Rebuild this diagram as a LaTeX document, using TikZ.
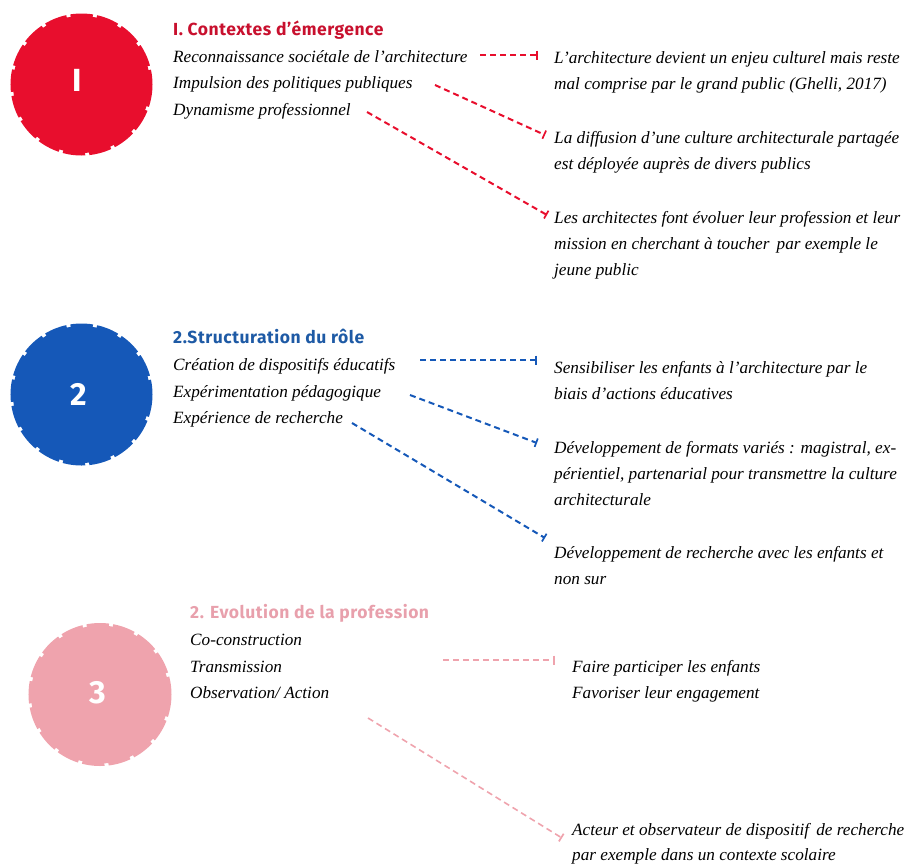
\documentclass[tikz,border=0pt]{standalone}
\usepackage{fontspec}
\setmainfont{Liberation Serif}
\newfontfamily\headfont[LetterSpace=3]{Fira Sans}
\newfontfamily\numfont{Fira Sans}
\usetikzlibrary{arrows.meta}
\definecolor{cred}{RGB}{232,14,45}
\definecolor{hred}{RGB}{200,16,46}
\definecolor{cblue}{RGB}{21,88,184}
\definecolor{hblue}{RGB}{30,90,165}
\definecolor{cpink}{RGB}{239,163,173}
\definecolor{hpink}{RGB}{232,160,172}
\tikzset{
  txt/.style={anchor=base west,inner sep=0pt,font=\fontsize{17.2}{26}\selectfont\itshape},
  head/.style={anchor=base west,inner sep=0pt,font=\fontsize{17.5}{20}\selectfont\headfont\bfseries},
  num/.style={inner sep=0pt,text=white,font=\fontsize{32}{32}\selectfont\numfont\bfseries},
  link/.style={line width=2pt,dash pattern=on 6pt off 4pt,-{Bar[width=9pt,line width=1.7pt]}},
}
\newcommand{\jagcircle}[3]{%
  \fill[#1] (#2) circle (#3-3);
  \draw[#1,line width=5pt,dash pattern=on 22pt off 4pt] (#2) circle (#3-3);
}
\begin{document}
\begin{tikzpicture}[x=1pt,y=-1pt]
\useasboundingbox (0,0) rectangle (921,865);
% circles
\jagcircle{cred}{81.5,84.5}{71.5}
\jagcircle{cblue}{81.5,394.5}{71.5}
\jagcircle{cpink}{100,694.5}{72}
\node[num] (n1) at (77,80) {I};
\node[num] (n2) at (79,394) {2};
\node[num] (n3) at (98,693) {3};
% section 1
\node[head,text=hred] (h1) at (173,35) {I. Contextes d’émergence};
\node[txt] (l1a) at (173,62) {Reconnaissance sociétale de l’architecture};
\node[txt] (l1b) at (173,88) {Impulsion des politiques publiques};
\node[txt] (l1c) at (173,115) {Dynamisme professionnel};
\node[txt] (r1a) at (554,63) {L’architecture devient un enjeu culturel mais reste};
\node[txt] (r1a2) at (554,89) {mal comprise par le grand public (Ghelli, 2017)};
\node[txt] (r1b) at (554,143) {La diffusion d’une culture architecturale partagée};
\node[txt] (r1b2) at (554,169) {est déployée auprès de divers publics};
\node[txt] (r1c) at (554,223) {Les architectes font évoluer leur profession et leur};
\node[txt] (r1c2) at (554,249) {mission en cherchant à toucher\, par exemple le};
\node[txt] (r1c3) at (554,275) {jeune public};
\coordinate (s1a) at (480,55); \coordinate (e1a) at (538,55);
\coordinate (s1b) at (435,85); \coordinate (e1b) at (545,135);
\coordinate (s1c) at (367,112); \coordinate (e1c) at (547,215);
\draw[link,cred] (s1a) -- (e1a);
\draw[link,cred] (s1b) -- (e1b);
\draw[link,cred] (s1c) -- (e1c);
% section 2
\node[head,text=hblue] (h2) at (173,343) {2.Structuration du rôle};
\node[txt] (l2a) at (173,370) {Création de dispositifs éducatifs};
\node[txt] (l2b) at (173,397) {Expérimentation pédagogique};
\node[txt] (l2c) at (173,423) {Expérience de recherche};
\node[txt] (r2a) at (554,373) {Sensibiliser les enfants à l’architecture par le};
\node[txt] (r2a2) at (554,399) {biais d’actions éducatives};
\node[txt] (r2b) at (554,453) {Développement de formats variés : magistral, ex-};
\node[txt] (r2b2) at (554,479) {périentiel, partenarial pour transmettre la culture};
\node[txt] (r2b3) at (554,505) {architecturale};
\node[txt] (r2c) at (554,558) {Développement de recherche avec les enfants et};
\node[txt] (r2c2) at (554,584) {non sur};
\coordinate (s2a) at (420,360); \coordinate (e2a) at (537,360);
\coordinate (s2b) at (410,395); \coordinate (e2b) at (537,443);
\coordinate (s2c) at (352,423); \coordinate (e2c) at (545,538);
\draw[link,cblue] (s2a) -- (e2a);
\draw[link,cblue] (s2b) -- (e2b);
\draw[link,cblue] (s2c) -- (e2c);
% section 3
\node[head,text=hpink] (h3) at (190,618) {2. Evolution de la profession};
\node[txt] (l3a) at (190,645) {Co-construction};
\node[txt] (l3b) at (190,672) {Transmission};
\node[txt] (l3c) at (190,698) {Observation/ Action};
\node[txt] (r3a) at (572,672) {Faire participer les enfants};
\node[txt] (r3a2) at (572,698) {Favoriser leur engagement};
\node[txt] (r3b) at (572,835) {Acteur et observateur de dispositif\, de recherche};
\node[txt] (r3b2) at (572,860) {par exemple dans un contexte scolaire};
\coordinate (s3a) at (443,660); \coordinate (e3a) at (555,660);
\coordinate (s3b) at (368,718); \coordinate (e3b) at (562,838);
\draw[link,cpink,line width=1.6pt] (s3a) -- (e3a);
\draw[link,cpink,line width=1.6pt] (s3b) -- (e3b);
\end{tikzpicture}
\end{document}
